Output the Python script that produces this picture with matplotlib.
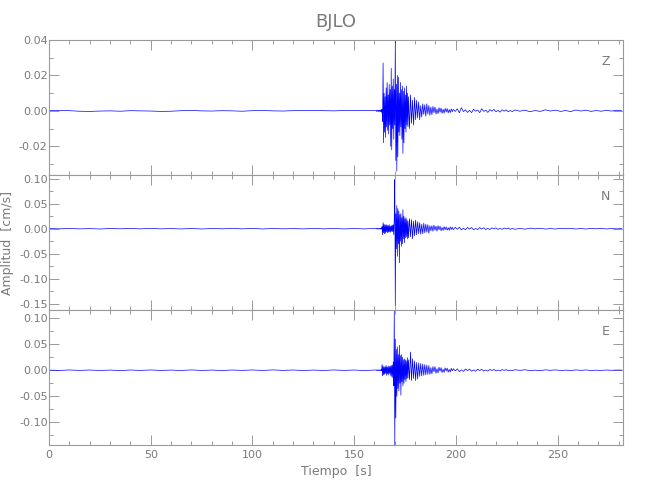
import numpy as np
import matplotlib
matplotlib.use("Agg")
import matplotlib.pyplot as plt
from matplotlib.ticker import MultipleLocator

# ---------------- data (cm/s) ----------------
# segment start times [s] and sample steps [s]
seg_starts = [0.0, 160.75, 176.75, 198.75, 229.0]
seg_steps = [5.0, 0.25, 0.5, 1.0, 2.5]

z_pre = [0.0002, 0.0003, 0.0001, -0.0002, -0.0003, -0.0001, 0.0000, -0.0002, 0.0001, 0.0000,
         -0.0001, -0.0003, -0.0002, 0.0001, 0.0002, 0.0000, -0.0001, 0.0001, 0.0000, -0.0002,
         0.0001, 0.0002, 0.0000, -0.0001, 0.0001, 0.0002, 0.0003, 0.0001, 0.0000, 0.0002,
         0.0001, 0.0003, 0.0002]
z_early = [0.0002, -0.0003, 0.0004, -0.0002, 0.0003, -0.0004, 0.0005, -0.0003, 0.0004, -0.0005,
           0.0006, -0.0008, 0.0010, -0.006, 0.027, -0.018, 0.010, -0.012, 0.008, -0.015,
           0.013, -0.009, 0.016, -0.011, 0.009, -0.013, 0.015, -0.008, 0.012, -0.020,
           0.024, -0.022, 0.014, -0.010, 0.018, -0.016, 0.012, -0.008, 0.040, -0.028,
           0.015, -0.034, 0.020, -0.026, 0.019, -0.012, 0.010, -0.014, 0.016, -0.009,
           0.012, -0.016, 0.014, -0.024, 0.011, -0.018, 0.013, -0.010, 0.009, -0.012,
           0.014, -0.008, 0.010, -0.009]
z_coda = [0.008, -0.010, 0.009, -0.007, 0.006, -0.008, 0.0076, -0.005, 0.006, -0.004,
          0.005, -0.005, 0.003, -0.0035, 0.004, -0.002, 0.0035, -0.003, 0.004, -0.0018,
          0.003, -0.0025, 0.0022, -0.0022, 0.0025, -0.001, 0.0022, -0.0018, 0.001, -0.0016,
          0.0018, -0.0008, 0.0016, -0.0014, 0.0009, -0.0013, 0.0014, -0.0006, 0.0013, -0.0011,
          0.0007, -0.001, 0.0011, -0.0005]
z_tail = [0.0008, -0.0003, 0.0012, -0.0011, 0.0018, -0.0004, 0.0006, -0.0009, 0.0003, -0.0010,
          0.0009, -0.0002, 0.0005, -0.0010, 0.0012, -0.0003, 0.0004, -0.0009, 0.0007, -0.0002,
          0.0008, -0.0005, 0.0003, -0.0007, 0.0006, -0.0002, 0.0006, -0.0005, 0.0002, -0.0004]
z_late = [0.0005, -0.0002, 0.0004, -0.0005, 0.0002, -0.0003, 0.0006, -0.0001, 0.0004, -0.0003,
          0.0002, -0.0004, 0.0005, -0.0001, 0.0004, -0.0003, 0.0002, -0.0002, 0.0003, -0.0001,
          0.0003, 0.0002]

n_pre = [0.0004, -0.0003, 0.0005, -0.0004, 0.0002, -0.0006, 0.0003, -0.0002, 0.0005, -0.0004,
         0.0006, -0.0003, 0.0002, -0.0005, 0.0004, -0.0006, 0.0003, -0.0002, 0.0004, -0.0003,
         0.0005, -0.0006, 0.0004, -0.0003, 0.0002, -0.0004, 0.0005, -0.0003, 0.0004, -0.0005,
         0.0003, -0.0004, 0.0005]
n_early = [0.0006, -0.0005, 0.0008, -0.0006, 0.0005, -0.0008, 0.0007, -0.0006, 0.0009, -0.0007,
           0.0008, -0.0010, 0.004, -0.012, 0.012, -0.008, 0.009, -0.010, 0.007, -0.009,
           0.008, -0.006, 0.007, -0.008, 0.006, -0.007, 0.008, -0.006, 0.005, -0.007,
           0.006, -0.005, 0.007, -0.006, 0.008, -0.012, 0.020, 0.098, -0.154, 0.030,
           -0.040, 0.046, -0.055, 0.040, -0.030, 0.035, -0.068, 0.028, -0.025, 0.030,
           -0.035, 0.022, -0.030, 0.038, -0.020, 0.025, -0.028, 0.020, -0.018, 0.022,
           -0.016, 0.018, -0.020, 0.015]
n_coda = [-0.018, 0.020, -0.016, 0.018, -0.020, 0.015, -0.014, 0.017, -0.012, 0.014,
          -0.010, 0.012, -0.011, 0.009, -0.010, 0.011, -0.008, 0.009, -0.007, 0.008,
          -0.009, 0.006, -0.004, 0.006, -0.005, 0.007, -0.003, 0.005, -0.005, 0.006,
          -0.002, 0.005, -0.004, 0.0025, -0.0035, 0.004, -0.002, 0.0035, -0.003, 0.002,
          -0.003, 0.0035, -0.0015, 0.003]
n_tail = [-0.002, 0.0028, -0.0012, 0.003, -0.0024, 0.0010, -0.0022, 0.0025, -0.0008, 0.0023,
          -0.0021, 0.0006, -0.0019, 0.0022, -0.0008, 0.0019, -0.0017, 0.0006, -0.0016, 0.0017,
          -0.0005, 0.0016, -0.0014, 0.0006, -0.0013, 0.0014, -0.0004, 0.0013, -0.0012, 0.0005]
n_late = [-0.0011, 0.0004, -0.0009, 0.001, -0.0003, 0.0009, -0.0008, 0.0003, -0.0007, 0.0008,
          -0.0002, 0.0007, -0.0006, 0.0003, -0.0006, 0.0006, -0.0002, 0.0006, -0.0005, 0.0002,
          -0.0004, 0.0004]

e_pre = [0.0003, -0.0004, 0.0005, -0.0003, 0.0004, -0.0005, 0.0003, -0.0006, 0.0004, -0.0003,
         0.0005, -0.0004, 0.0003, -0.0005, 0.0006, -0.0004, 0.0003, -0.0005, 0.0004, -0.0003,
         0.0005, -0.0004, 0.0006, -0.0003, 0.0004, -0.0005, 0.0003, -0.0004, 0.0005, -0.0003,
         0.0004, -0.0006, 0.0005]
e_early = [0.0005, -0.0006, 0.0007, -0.0005, 0.0006, -0.0008, 0.0007, -0.0006, 0.0008, -0.0009,
           0.0010, -0.0012, 0.011, -0.011, 0.008, -0.009, 0.006, -0.008, 0.007, -0.006,
           0.009, -0.010, 0.006, -0.007, 0.008, -0.009, 0.007, -0.006, 0.008, -0.010,
           0.009, -0.012, 0.010, -0.014, 0.016, -0.030, 0.115, -0.144, 0.060, -0.092,
           0.040, -0.050, 0.045, -0.035, 0.030, -0.040, 0.048, -0.025, 0.028, -0.048,
           0.030, -0.022, 0.025, -0.030, 0.020, -0.025, 0.022, -0.018, 0.020, -0.022,
           0.018, -0.016, 0.024, -0.015]
e_coda = [0.020, -0.018, 0.035, -0.020, 0.022, -0.016, 0.018, -0.020, 0.015, -0.017,
          0.014, -0.012, 0.013, -0.011, 0.012, -0.010, 0.011, -0.009, 0.010, -0.008,
          0.009, -0.008, 0.005, -0.007, 0.007, -0.003, 0.007, -0.006, 0.003, -0.005,
          0.006, -0.002, 0.005, -0.0045, 0.002, -0.004, 0.0045, -0.0015, 0.004, -0.0035,
          0.0015, -0.0035, 0.0035, -0.0012]
e_tail = [0.003, -0.0012, 0.0026, -0.0027, 0.0009, -0.0024, 0.0023, -0.0008, 0.0022, -0.002,
          0.0006, -0.0019, 0.002, -0.0007, 0.0019, -0.0017, 0.0005, -0.0016, 0.0016, -0.0005,
          0.0015, -0.0014, 0.0004, -0.0013, 0.0013, -0.0004, 0.0012, -0.0011, 0.0003, -0.001]
e_late = [0.001, -0.0003, 0.0009, -0.0008, 0.0002, -0.0008, 0.0007, -0.0002, 0.0007, -0.0006,
          0.0002, -0.0006, 0.0006, -0.0002, 0.0005, -0.0005, 0.0001, -0.0004, 0.0004, -0.0001,
          0.0003, 0.0003]

components = ["Z", "N", "E"]
ylims = [(-0.0362, 0.040), (-0.162, 0.107), (-0.144, 0.116)]
ymajor = [0.02, 0.05, 0.05]
yminor = [0.01, 0.025, 0.025]
xlim = (0, 282.2)

series = {
    "Z": [z_pre, z_early, z_coda, z_tail, z_late],
    "N": [n_pre, n_early, n_coda, n_tail, n_late],
    "E": [e_pre, e_early, e_coda, e_tail, e_late],
}


def build(segs):
    ts, vs = [], []
    for start, step, vals in zip(seg_starts, seg_steps, segs):
        ts.append(start + step * np.arange(len(vals)))
        vs.append(np.asarray(vals))
    return np.concatenate(ts), np.concatenate(vs)


# ---------------- figure ----------------
W, H = 650, 500
fig = plt.figure(figsize=(6.5, 5.0), dpi=100)
plt.rcParams['font.family'] = ['DejaVu Sans']

gray_ax = '#9a9a9a'
gray_txt = '#7a7a7a'
left, right = 49 / W, 623 / W
edges = [40, 175, 310, 445]

for i, comp in enumerate(components):
    top = 1 - edges[i] / H
    bot = 1 - edges[i + 1] / H
    ax = fig.add_axes([left, bot, right - left, top - bot])
    t, v = build(series[comp])
    ax.plot(t, v, color='#0000ff', lw=0.5)
    ax.set_xlim(*xlim)
    ax.set_ylim(*ylims[i])
    ax.xaxis.set_major_locator(MultipleLocator(50))
    ax.xaxis.set_minor_locator(MultipleLocator(10))
    ax.yaxis.set_major_locator(MultipleLocator(ymajor[i]))
    ax.yaxis.set_minor_locator(MultipleLocator(yminor[i]))
    ax.yaxis.set_major_formatter(matplotlib.ticker.FormatStrFormatter('%.2f'))
    ax.tick_params(which='both', direction='in', top=True, right=True,
                   color=gray_ax, labelcolor=gray_txt, labelsize=8, width=0.7)
    ax.tick_params(which='major', length=7)
    ax.tick_params(which='minor', length=3)
    ax.tick_params(axis='y', pad=1)
    for s in ax.spines.values():
        s.set_color(gray_ax)
        s.set_linewidth(0.8)
    if i < 2:
        ax.tick_params(labelbottom=False)
    else:
        ax.set_xlabel('Tiempo  [s]', color=gray_txt, fontsize=9, labelpad=4)
    ax.text(0.970, 0.84, comp, transform=ax.transAxes, ha='center', va='center',
            color=gray_txt, fontsize=9)

fig.text(336 / W, 1 - 22 / H, 'BJLO', ha='center', va='center', color=gray_txt, fontsize=13)
fig.text(8 / W, 1 - 243 / H, 'Amplitud  [cm/s]', ha='center', va='center',
         rotation=90, color=gray_txt, fontsize=9)

fig.savefig('out.png', dpi=100)
